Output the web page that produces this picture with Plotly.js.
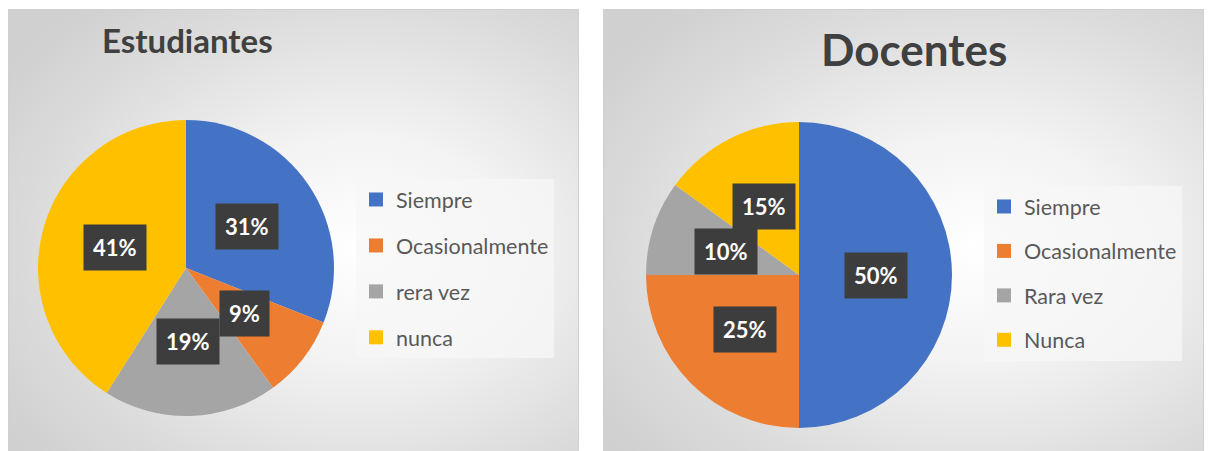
<!DOCTYPE html>
<html>
<head>
<meta charset="utf-8">
<script src="https://cdn.plot.ly/plotly-3.0.1.min.js"></script>
<style>
  html, body { margin:0; padding:0; background:#ffffff; }
  #wrap { position:relative; width:1209px; height:451px; overflow:hidden; background:#ffffff; }
  .panel { position:absolute; box-sizing:border-box; border:1px solid #d0d0d0; }
  #p1 { left:8px; top:9px; width:571px; height:460px;
        background: radial-gradient(ellipse 75% 70% at 62% 52%, #ffffff 0%, #f3f3f3 35%, #dcdcdc 75%, #d0d0d0 100%); }
  #p2 { left:603px; top:9px; width:601px; height:460px;
        background: radial-gradient(ellipse 75% 70% at 62% 52%, #ffffff 0%, #f3f3f3 35%, #dcdcdc 75%, #d0d0d0 100%); }
  #chart { position:absolute; left:0; top:0; width:1209px; height:451px; }
</style>
</head>
<body>
<div id="wrap">
  <div class="panel" id="p1"></div>
  <div class="panel" id="p2"></div>
  <div id="chart"></div>
</div>
<script>
// ---- data ----
const titleEst = 'Estudiantes';
const labelsEst = ['Siempre', 'Ocasionalmente', 'rera vez', 'nunca'];
const valuesEst = [31, 9, 19, 41];

const titleDoc = 'Docentes';
const labelsDoc = ['Siempre', 'Ocasionalmente', 'Rara vez', 'Nunca'];
const valuesDoc = [50, 25, 10, 15];

const sliceColors = ['#4472C4', '#ED7D31', '#A5A5A5', '#FFC000'];

// ---- layout helpers ----
const W = 1209, H = 451;
function px2x(p) { return p / W; }
function px2y(p) { return 1 - p / H; }

const pieEst = {
  type: 'pie', labels: labelsEst, values: valuesEst, sort: false,
  direction: 'clockwise', rotation: 0, textinfo: 'none', showlegend: false,
  hoverinfo: 'label+percent',
  marker: { colors: sliceColors, line: { width: 0 } },
  domain: { x: [px2x(38), px2x(334)], y: [px2y(416), px2y(120)] }
};
const pieDoc = {
  type: 'pie', labels: labelsDoc, values: valuesDoc, sort: false,
  direction: 'clockwise', rotation: 0, textinfo: 'none', showlegend: false,
  hoverinfo: 'label+percent',
  marker: { colors: sliceColors, line: { width: 0 } },
  domain: { x: [px2x(646), px2x(952)], y: [px2y(428), px2y(122)] }
};

function legendTraces(labels, legendId, prefix) {
  return labels.map((lab, i) => ({
    type: 'scatter', x: [null], y: [null], mode: 'markers', name: lab,
    marker: { symbol: 'square', size: 14, color: sliceColors[i] },
    legend: legendId, legendgroup: prefix + i, showlegend: true, hoverinfo: 'skip'
  }));
}

const legendFont = { family: 'Lato, "Open Sans", sans-serif', size: 21.5, color: '#595959' };

const layout = {
  width: W, height: H,
  margin: { l: 0, r: 0, t: 0, b: 0 },
  paper_bgcolor: 'rgba(0,0,0,0)',
  plot_bgcolor: 'rgba(0,0,0,0)',
  xaxis: { visible: false, domain: [0, 0.01] },
  yaxis: { visible: false, domain: [0, 0.01] },
  legend: {
    x: px2x(356), y: px2y(179), xanchor: 'left', yanchor: 'top',
    bgcolor: 'rgba(247,247,247,0.75)', font: legendFont,
    tracegroupgap: 15, itemsizing: 'trace', traceorder: 'grouped'
  },
  legend2: {
    x: px2x(984), y: px2y(186), xanchor: 'left', yanchor: 'top',
    bgcolor: 'rgba(247,247,247,0.75)', font: legendFont,
    tracegroupgap: 13.5, itemsizing: 'trace', traceorder: 'grouped'
  },
  annotations: [
    { text: titleEst, xref: 'paper', yref: 'paper', x: px2x(187), y: px2y(40),
      xanchor: 'center', yanchor: 'middle', showarrow: false,
      font: { family: 'Lato, sans-serif', size: 33, color: '#404040', weight: 700 } },
    { text: titleDoc, xref: 'paper', yref: 'paper', x: px2x(914), y: px2y(49),
      xanchor: 'center', yanchor: 'middle', showarrow: false,
      font: { family: 'Lato, sans-serif', size: 44, color: '#404040', weight: 700 } }
  ],
  showlegend: true
};

const data = [pieEst, pieDoc]
  .concat(legendTraces(labelsEst, 'legend', 'e'))
  .concat(legendTraces(labelsDoc, 'legend2', 'd'));

const gd = document.getElementById('chart');
Plotly.newPlot(gd, data, layout, { displayModeBar: false, staticPlot: true }).then(() => {
  const fl = gd._fullLayout, gs = fl._size;
  const boxes = [];
  [0, 1].forEach(ti => {
    const cd = gd.calcdata[ti];
    const cd0 = cd[0];
    const total = cd0.vTotal;
    cd.forEach(pt => {
      const px = cd0.cx + 0.5 * pt.pxmid[0];
      const py = cd0.cy + 0.5 * pt.pxmid[1];
      boxes.push({
        text: Math.round(pt.v / total * 100) + '%',
        xref: 'paper', yref: 'paper',
        x: (px - gs.l) / gs.w, y: 1 - (py - gs.t) / gs.h,
        xanchor: 'center', yanchor: 'middle', showarrow: false,
        bgcolor: '#3d3d3d', borderpad: 9,
        font: { family: 'Lato, sans-serif', size: 22, color: '#ffffff', weight: 700 }
      });
    });
  });
  return Plotly.relayout(gd, { annotations: layout.annotations.concat(boxes) });
});
</script>
</body>
</html>
